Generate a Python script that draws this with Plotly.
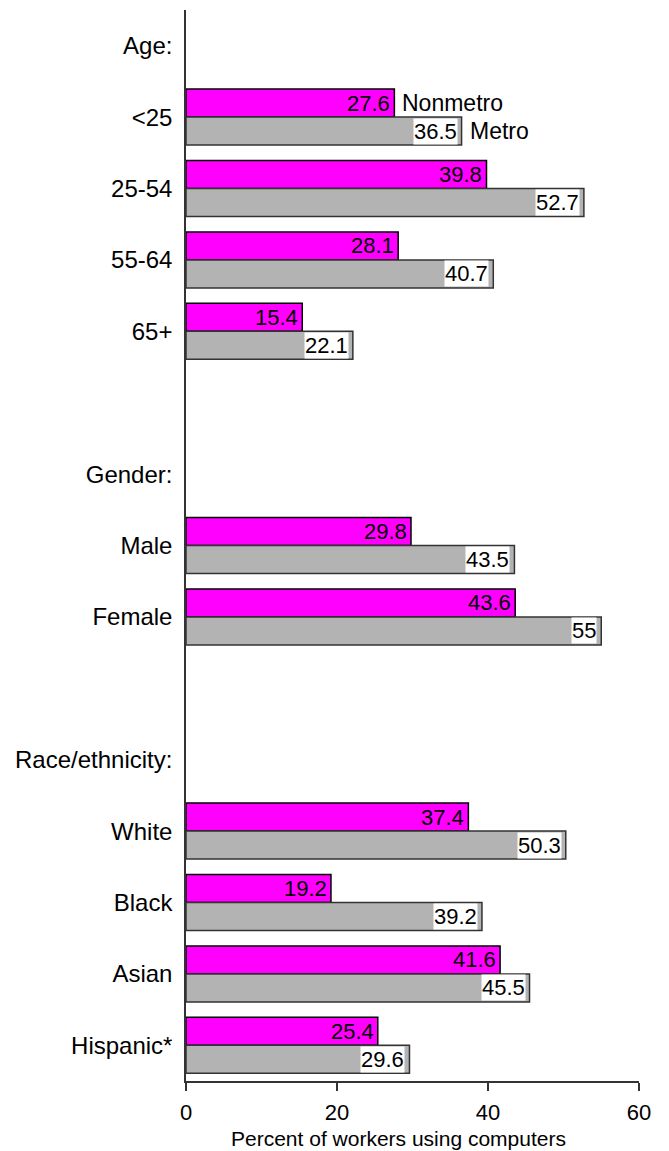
import plotly.graph_objects as go

categories = ["Age:", "<25", "25-54", "55-64", "65+", " ", "Gender:", "Male", "Female",
              "  ", "Race/ethnicity:", "White", "Black", "Asian", "Hispanic*"]
nonmetro = [None, 27.6, 39.8, 28.1, 15.4, None, None, 29.8, 43.6, None, None, 37.4, 19.2, 41.6, 25.4]
metro = [None, 36.5, 52.7, 40.7, 22.1, None, None, 43.5, 55, None, None, 50.3, 39.2, 45.5, 29.6]
x_ticks = [0, 20, 40, 60]
series_names = ["Nonmetro", "Metro"]
x_title = "Percent of workers using computers"

FONT = "Liberation Sans, Arial, sans-serif"

fig = go.Figure()
fig.add_trace(go.Bar(
    y=categories, x=nonmetro, orientation="h", name=series_names[0],
    marker=dict(color="#ff00ff", line=dict(color="#000000", width=1.5)),
))
fig.add_trace(go.Bar(
    y=categories, x=metro, orientation="h", name=series_names[1],
    marker=dict(color="#b3b3b3", line=dict(color="#333333", width=1.5)),
))

annotations = []
for cat, v in zip(categories, nonmetro):
    if v is None:
        continue
    annotations.append(dict(
        x=v, y=cat, xref="x", yref="y", text=f"{v:g}", showarrow=False,
        xanchor="right", yanchor="middle", xshift=-3, yshift=14,
        font=dict(family=FONT, size=22, color="black"), borderpad=0,
    ))
for cat, v in zip(categories, metro):
    if v is None:
        continue
    annotations.append(dict(
        x=v, y=cat, xref="x", yref="y", text=f"{v:g}", showarrow=False,
        xanchor="right", yanchor="middle", xshift=-4, yshift=-14,
        font=dict(family=FONT, size=22, color="black"), bgcolor="white", borderpad=0,
    ))
# series labels next to first group
annotations.append(dict(
    x=nonmetro[1], y=categories[1], xref="x", yref="y", text=series_names[0], showarrow=False,
    xanchor="left", yanchor="middle", xshift=6, yshift=14,
    font=dict(family=FONT, size=23, color="black"),
))
annotations.append(dict(
    x=metro[1], y=categories[1], xref="x", yref="y", text=series_names[1], showarrow=False,
    xanchor="left", yanchor="middle", xshift=6, yshift=-14,
    font=dict(family=FONT, size=23, color="black"),
))
# x-axis title (slightly left of centre, as in the original)
annotations.append(dict(
    x=0.468, y=0, xref="paper", yref="paper", text=x_title, showarrow=False,
    xanchor="center", yanchor="middle", yshift=-57,
    font=dict(family=FONT, size=21, color="black"),
))

fig.update_layout(
    width=661, height=1143,
    margin=dict(l=178, r=30, t=2, b=70),
    paper_bgcolor="white", plot_bgcolor="white",
    barmode="group", bargap=0.215, bargroupgap=0,
    showlegend=False,
    annotations=annotations,
    font=dict(family=FONT, color="black"),
)
fig.update_xaxes(
    range=[0, 60], tickvals=x_ticks, ticktext=[str(t) for t in x_ticks],
    showgrid=False, zeroline=False, showline=True, linecolor="#333333", linewidth=1.5,
    ticks="outside", ticklen=8, tickwidth=1.5, tickcolor="#333333",
    ticklabelstandoff=3,
    tickfont=dict(family=FONT, size=22, color="black"),
)
fig.update_yaxes(
    autorange="reversed", categoryorder="array", categoryarray=categories,
    showgrid=False, zeroline=False, showline=True, linecolor="#333333", linewidth=1.5,
    ticks="", ticklabelstandoff=7,
    tickfont=dict(family=FONT, size=24, color="black"),
)

fig.write_html("out.html")
